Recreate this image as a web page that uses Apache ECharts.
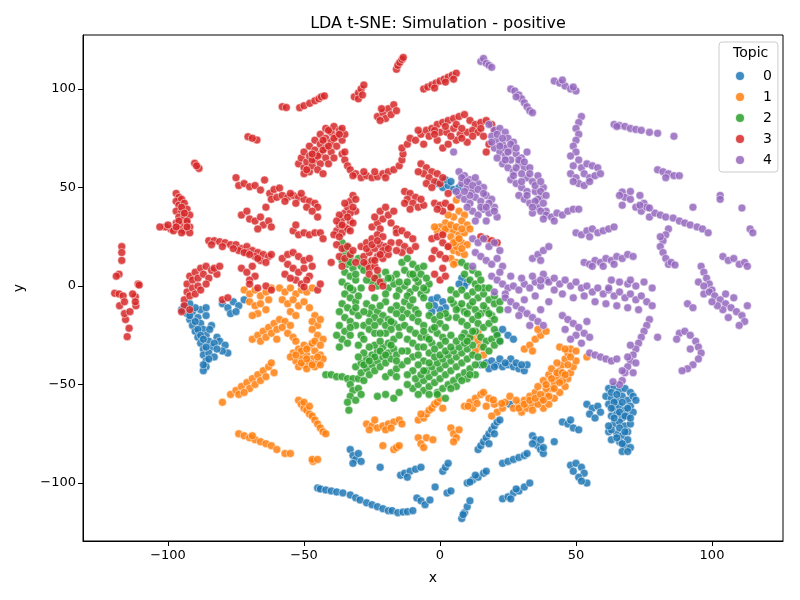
<!DOCTYPE html>
<html>
<head>
<meta charset="utf-8">
<script src="https://cdn.jsdelivr.net/npm/echarts@6/dist/echarts.min.js"></script>
<style>
html, body { margin: 0; padding: 0; background: #fff; }
#chart { width: 800px; height: 600px; }
</style>
</head>
<body>
<div id="chart"></div>
<script>
var topicNames = ['0', '1', '2', '3', '4'];
var topicColors = ['#1f77b4', '#ff7f0e', '#2ca02c', '#d62728', '#9467bd'];
var xTicks = [-100, -50, 0, 50, 100];
var yTicks = [-100, -50, 0, 50, 100];

// topic 0 (blue)
var topic0 = [
    [-94,-10],[-93,-14],[-92,-17],[-91,-20],[-90,-23],[-89,-26],[-88,-29],[-87,-32],[-87,-35],[-86,-38],
    [-86,-41],[-87,-43],[-91,-13],[-89,-16],[-88,-19],[-87,-22],[-86,-25],[-85,-28],[-84,-31],[-85,-34],
    [-88,-12],[-86,-15],[-84,-20],[-82,-26],[-81,-28],[-79,-30],[-78,-34],[-80,-33],[-83,-36],[-90,-11],
    [-95,-12],[-92,-9],[-84.7,-22],[-86,-11],
    [-89,-22],[-88,-25],[-87,-27],[-86,-31],[-85,-37],[-87,-40],[-83,-29],[-82,-32],[-90,-18],[-92,-15],
    [-80,-9],[-78,-11],[-76,-8],[-74,-10],[-72,-7],[-77,-14],[-75,-13],
    [-45,-102.5],[-44,-103],[-42,-103.5],[-40,-104],[-38,-104.5],[-35.7,-105],[-33,-106],[-31,-107.5],
    [-29.4,-108.6],[-27,-110],[-25,-111],[-23,-112],[-21,-113],[-19,-114],[-17.6,-114],[-15.5,-115],
    [-13.6,-114.7],[-12,-114.5],[-10,-114],[-8.5,-107.6],[-7,-109],[-5.5,-111],[-3.7,-108.6],[-1.8,-102],
    [2.6,-105],[4,-104],
    [8,-118],[9,-115],[10,-112],[11,-109],[8.5,-116],
    [-33,-83],[-32,-86],[-31,-88],[-30,-85],[-29,-89],[-32,-90],[-22,-92],
    [-14.5,-96],[-13,-95],[-11,-94],[-9,-93],[-7,-92],[-12,-97],
    [1,-94],[2,-92],[3,-90],
    [10,-100],[12,-98.5],[14,-97],[16,-95],[17,-94],[11,-99.5],[13,-96],
    [14,-83],[15,-81],[16,-79],[17,-77],[18,-75],[19,-73],[20,-71],[21,-69],[22,-68],[20,-75],[18,-80],
    [23,-90],[25,-89],[27,-88],[29,-87],[31,-86],[32,-85],
    [23,-108],[25,-107],[27,-105],[29,-104],[31,-102],[33,-100],[28,-103],[26,-108],
    [34,-76],[35,-78],[36,-81],[37,-83],[34,-80],[38,-85],
    [15,-40],[17,-39],[19,-38],[21,-40],[23,-41],[25,-40],[27,-41],[29,-42],[31,-43],[32,-40],[18,-42],
    [22,-37],[26,-37],[20,-41],[24,-39],[28,-39],[30,-40],
    [-3,-7],[-1,-6],[1,-8],[2,-11],[0,-12],[-2,-10],[-3,-13],
    [21,-24],[23,-22],[25,-25],[27,-27],[22,-28],[25.7,-60],
    [-1,52],[1,50],[3,51],[5,49],[7,50],[2,54],[4,53],
    [8,4],[10,2],[9,0],[7,1],
    [62,-52],[64,-51],[66,-53],[68,-52],[70,-54],[61,-56],[63,-57],[65,-58],[67,-56],[69,-58],
    [71,-56],[62,-60],[64,-62],[66,-61],[68,-63],[70,-61],[63,-66],[65,-65],[67,-67],[69,-66],
    [71,-64],[64,-70],[66,-69],[68,-71],[70,-70],[62,-74],[65,-75],[67,-76],[69,-74],[66,-79],
    [68,-81],[70,-82],[67,-84],[72,-58],[63,-78],[63,-73],
    [63,-54],[65,-55],[67,-59],[69,-62],[64,-59],[66,-64],[68,-66],[64,-67],[66,-72],[68,-74],
    [70,-67],[65,-77],[69,-78],[67,-80],[69,-84],[62,-71],[63,-62],
    [54,-60],[56,-62],[58,-61],[55,-65],[57,-67],[59,-64],
    [45,-69],[47,-70],[49,-72],[51,-73],[48,-68],
    [42,-79],[37,-78],[38,-82],
    [48,-91],[50,-90],[52,-92],[53,-95],[51,-97],[49,-94],[54,-100],[52,-99]
];

// topic 1 (orange)
var topic1 = [
    [6,43.6],[4,40],[7,38],[9,36],[5,35],[8,33],[10,31],[2,32],[0,30],[-1,28],[1,27],[3,29],[5,28],
    [7,26],[9,27],[11,29],[4,25],[6,23],[8,22],[10,21],[3,20],[5,18],[7,17],[9,16],[4,14],[6,12],
    [5,11],[-2,30],[3,36],[2,29],[4,31],[6,30],[8,29],[6,20],[8,19],[5,22],[7,24],
    [-72,-2],[-70,-4],[-68,-2],[-66,-5],[-64,-3],[-62,-1],[-70,-8],[-68,-10],[-66,-9],[-64,-12],
    [-67,-14],[-69,-15],[-63,-7],
    [-69,-27],[-67,-25],[-65,-23],[-63,-21],[-61,-19],[-59,-17],[-57,-18],[-55,-20],[-66,-28],[-64,-26],
    [-62,-24],[-60,-22],[-58,-21],[-56,-24],[-54,-26],[-53,-28],[-60,-27],
    [-59,-1],[-57,-3],[-55,-1],[-53,-4],[-51,-2],[-49,-3],[-47,-1],[-58,-7],[-56,-9],[-54,-7],
    [-52,-10],[-50,-8],[-48,-11],[-55,-13],[-53,-15],[-46,-15],[-47,-18],[-45,-20],[-44,-17],
    [-54,-34],[-52,-32],[-50,-30],[-48,-31],[-46,-33],[-44,-35],[-53,-38],[-51,-36],[-49,-35],[-47,-37],
    [-45,-39],[-43,-37],[-52,-41],[-50,-40],[-48,-39],[-46,-41],[-44,-40],[-55,-36],[-49,-42],[-47,-29],
    [-51,-33],[-47,-22],[-45,-25],[-43,-27],[-46,-28],[-44,-30],
    [-53,-35],[-51,-39],[-49,-37],[-47,-40],[-45,-36],[-49,-32],
    [-80,-59],[-77,-55],[-75,-53],[-73,-51],[-71,-49],[-69,-47],[-67,-45],[-65,-43],[-63,-41],[-62,-39],
    [-74,-55],[-70,-52],[-68,-50],[-66,-48],[-64,-46],[-72,-54],[-61,-44],
    [-74,-75],[-72,-76],[-70,-77],[-68,-78],[-66,-79],[-64,-80],[-62,-81],[-60,-83],[-69,-76],[-57,-85],
    [-55,-85],[-46.7,-89],
    [-52,-58],[-51,-60],[-50,-62],[-49,-63],[-48,-65],[-47,-66],[-46,-68],[-45,-70],[-44,-72],[-43,-74],
    [-42,-75],[-50,-59],[-48,-61],
    [-47,-88],[-45,-88],
    [-27,-70],[-25,-71],[-23,-72],[-21,-71],[-19,-70],[-17,-69],[-15,-68],[-14,-70],[-24,-68],[-20,-73],
    [-26,-73],[-18,-72],
    [-21,-81],[-17,-83],[-16,-82],[-15,-81],
    [-8,-68],[-6,-67],[-5,-65],[-4,-63],[-3,-62],[-2,-60],[-1,-59],[0,-57],[-7,-65],[1,-62],
    [-8,-77],[-7,-80],[-6,-82],[-5,-77],[-2.6,-78],
    [4,-72],[5,-75],[6,-77],[5,-79],[7,-73],
    [9,-61],[11,-59],[13,-57],[15,-55],[16,-54],[18,-57],[20,-60],[21,-64],[23,-62],[24,-59],
    [25.7,-56],[12,-62],[17,-61],[19,-66],[10.3,-61],[13.6,-59.6],[19.6,-57.8],[22.7,-59.6],
    [27,-62],[29,-60],[31,-58],[33,-56],[35,-54],[36,-51],[38,-48],[40,-45],[30,-64],[32,-62],
    [34,-60],[37,-58],[39,-55],[41,-52],[42,-49],[43,-46],[44,-43],[45,-40],[46,-37],[47,-34],
    [48,-32],[38,-62],[40,-60],[42,-57],[44,-54],[46,-51],[47,-47],[48,-44],[49,-41],[50,-38],
    [43,-39],[41,-42],[39,-52],[45,-48],[36,-60],[54,-36],[50,-33],[28,-58],[34,-63],[44,-31],
    [29,-62],[31,-60],[33,-58],[35,-57],[37,-55],[39,-50],[41,-47],[43,-44],[45,-44],[46,-45],
    [44,-49],[42,-52],[40,-56],[38,-58],[47,-40],[48,-36],[46,-32],
    [12,-26],[14,-28],[15,-31],[13,-33],[16,-35],[14,-24],
    [31,-32],[33,-30],[35,-27],[37,-25],[39,-23],[34,-33],[36,-22]
];

// topic 2 (green)
var topic2 = [
    [-36,22],[-34,20],[-35,17],[-33,15],[-36,13],[-34,11],[-32,9],[-35,7],[-33,5],[-31,3],
    [-36,2],[-34,0],[-32,-2],[-35,-4],[-33,-6],[-31,-8],[-36,-9],[-34,-11],[-32,-13],[-30,-15],
    [-35,-16],[-33,-18],[-31,-20],[-37,-20],[-35,-23],[-33,-25],[-36,-27],[-34,-29],[-37,-31],[-38,-25],
    [-30,-5],[-29,10],[-37,-13],
    [-42,-45],[-40,-45],[-38,-46],[-36,-46],[-34,-47],[-32,-47],[-30,-47],[-28,-48],
    [-33,-50],[-32,-53],[-33,-56],[-34,-59],[-33.5,-63],[-30,-52],[-29,-55],[-31,-58],
    [-31,-41],[-29,-39],[-27,-37],[-25,-35],[-23,-33],[-21,-31],[-19,-29],[-17,-27],[-15,-25],[-29,-44],
    [-27,-42],[-25,-40],[-23,-38],[-21,-36],[-19,-34],[-17,-32],[-26,-45],[-24,-43],[-22,-41],[-20,-39],
    [-18,-37],[-16,-35],[-20,-46],[-18,-44],[-16,-42],[-14,-40],[-28,-34],[-30,-36],[-24,-30],[-22,-28],
    [-27,-9],[-25,-11],[-23,-13],[-21,-15],[-19,-17],[-17,-19],[-15,-21],[-26,-14],[-24,-16],[-22,-18],
    [-20,-20],[-18,-22],[-28,-20],[-26,-22],[-24,-24],[-14,-12],[-16,-10],[-20,-8],[-22,-10],[-18,-12],
    [-24,-6],
    [-13,-8],[-11,-10],[-9,-12],[-12,-14],[-10,-16],[-8,-18],[-13,-20],[-11,-22],[-9,-24],[-7,-26],
    [-12,-27],[-10,-29],[-8,-31],[-6,-20],
    [-25,2],[-23,0],[-21,2],[-19,-1],[-17,1],[-15,-2],[-13,0],[-11,-3],[-9,-1],[-7,-4],
    [-5,-2],[-20,-4],[-16,-5],[-12,-5],[-8,2],[-4,1],
    [-10,-52],[-8,-50],[-6,-48],[-4,-46],[-2,-44],[0,-42],[2,-40],[4,-38],[6,-36],[8,-34],
    [10,-32],[12,-30],[-9,-47],[-7,-45],[-5,-43],[-3,-41],[-1,-39],[1,-37],[3,-35],[5,-33],
    [7,-31],[9,-29],[-6,-53],[-4,-51],[-2,-49],[0,-47],[2,-45],[4,-43],[6,-41],[8,-39],
    [10,-37],[12,-35],[-1,-54],[1,-52],[3,-50],[5,-48],[7,-46],[9,-44],[11,-42],[13,-40],
    [-8,-55],[6,-51],[10,-47],[13,-45],
    [4,-2],[6,-4],[8,-2],[10,-5],[12,-3],[14,-6],[16,-4],[18,-7],[20,-9],[22,-8],
    [5,-9],[7,-11],[9,-13],[11,-10],[13,-12],[15,-14],[17,-12],[19,-15],[6,-16],[8,-18],
    [10,-20],[12,-17],[14,-19],[16,-21],[18,-19],[20,-22],[9,-24],[11,-26],[13,-23],[15,-26],
    [17,-28],[19,-27],[21,-25],[16,-31],[18,-33],
    [-4,-15],[-2,-17],[0,-19],[2,-21],[-3,-22],[-1,-24],[1,-26],[3,-16],[-5,-26],[-3,-29],
    [0,-30],[2,-28],[4,-25],[-4,-34],[-2,-36],[-6,-38],[-8,-40],[-10,-36],[-12,-33],
    [-14,12],[-12,14],[-10,11],[-8,9],[-13,8],[-11,6],[-9,4],[-7,6],[-5,4],[-12,2],
    [-6,10],[8,12],[10,10],[12,8],[14,6],[9,6],[11,3],[13,1],[15,3],[16,-1],
    [-16,6],[-18,4],[-20,7],[-28,8],[-26,12],[-30,14],
    [-23,-56],[-20,-55],[-17,-57],[-15,-54],[-1,-55],[2,-57],
    [-35,19],[-33,12],[-31,6],[-33,-1],[-31,-11],[-33,-21],[-29,-25],[-30,-30],[-26,-31],[-28,-40],
    [-24,-36],[-22,-33],[-20,-35],[-18,-30],[-16,-38],[-14,-33],[-12,-38],[-10,-43],[-12,-45],[-6,-43],
    [-4,-39],[-8,-35],[-6,-31],[-4,-27],[-2,-32],[0,-35],[2,-33],[4,-31],[6,-28],[8,-26],
    [10,-28],[12,-23],[14,-15],[16,-10],[18,-14],[20,-17],[22,-12],[20,-5],[18,-1],[14,-1],
    [12,-8],[10,-14],[8,-9],[6,-12],[4,-7],[2,-14],[0,-15],[-2,-21],[-6,-23],[-8,-14],
    [-4,-10],[-6,-6],[-10,-7],[-14,-16],[-16,-14],[-18,-18],[-20,-24],[-22,-24],[-26,-18],[-28,-13],
    [-24,-20],[-29,-1],[-27,3],[-23,5],[-19,4],[-15,2],[-10,6],[-6,-1],[-28,-27],[-26,-38],
    [-16,-46],[-12,-50],[-4,-55],[4,-52],[8,-48],[11,-45],[14,-36],[16,-40],[20,-30],[22,-28]
];

// topic 3 (red)
var topic3 = [
    [-117,20],[-117,17],[-117,13],[-118,6],[-119,5],[-111,1],[-110.6,0.5],[-119.6,-3.7],[-118,-4],[-116.5,-5],
    [-112,-5.4],[-113,-4],[-117.8,-10],[-116,-8],[-111.8,-10],[-112,-8],[-115.6,-17],[-116,-14],[-114.3,-21.4],[-115,-25.7],
    [-114,-13],
    [-97,47],[-96,45],[-97,43],[-95,44],[-96,41],[-94,42],[-97,38],[-95,38],[-93,39],[-96,35],
    [-94,35],[-92,36],[-97,32],[-95,31],[-93,32],[-92,30],[-96,29],[-94,28],[-92,27],[-99,29],
    [-101,30],[-103,30],[-98,28],[-95,27],[-93,33],[-95,40],[-94,37],[-96,33],[-93,30],[-97,30],[-100,31],
    [-90.2,62.3],[-88.6,59.7],[-89.5,61],[-70.6,75.8],[-67.3,74.1],[-69,75],
    [-58,91],[-56.5,90.6],[-51.6,90.5],[-50,91.5],[-47.9,92.7],[-46,94],[-44.5,95],[-43.6,96],[-42.5,96.5],
    [-52,62],[-50,60],[-48,58],[-51,65],[-49,63],[-47,61],[-50,68],[-48,66],[-46,64],[-44,62],
    [-48,71],[-46,69],[-44,67],[-42,65],[-46,74],[-44,72],[-42,70],[-40,68],[-44,77],[-42,75],
    [-40,73],[-38,71],[-42,80],[-40,78],[-38,76],[-36,74],[-39,81],[-37,79],[-35,77],[-45,59],
    [-43,57],[-41,62],[-39,65],[-50,57],[-36,80],
    [-49,59],[-47,64],[-45,66],[-43,69],[-41,71],[-39,75],[-37,77],[-41,79],[-43,74],[-47,67],
    [-75,55],[-74,51],[-72,52],[-70,50.4],[-68,51],[-66,48.7],[-64.5,53.8],[-62.6,47],[-61,49],[-59,49.7],
    [-62,44],[-60,45],[-58,46],[-56,45],[-54,46],[-52,45],[-50,44],[-48,43],[-46,42],[-45,40],
    [-57,43],[-53,42],[-49,40],[-55,47],[-51,47],[-47,38],[-45,35],
    [-73,36],[-71,38],[-70,34],[-68,33],[-66,35],[-65,31],[-63,33],[-62,30],[-67,29],[-64,40],
    [-54,28],[-52,26],[-50,27],[-48,26],[-46,27],[-44,27],[-53,31],[-43,24],
    [-85,23],[-83,23],[-81,22.5],[-79,22],[-77,21],[-75,21],[-73,19],[-71,20],[-69,18],[-67,17],
    [-65,16],[-63,15],[-71,17],[-68,15],[-66,13],[-64,12],[-62,16],[-74,18],
    [-84,21],[-80,20],[-76,19],[-72,17],[-70,16],[-67,14],
    [-58,14],[-56,16],[-54,17],[-52,15],[-50,13],[-48,14],[-56,11],[-54,9],[-52,7],[-50,9],
    [-48,5],[-53,3],[-51,1],[-49,3],[-57,6],[-55,4],[-47,10],[-50,-0.5],
    [-92,5],[-90,7],[-88,9],[-86,10],[-84,8],[-82,6],[-93,1],[-91,3],[-89,4],[-87,6],
    [-85,4],[-93,-3],[-91,-1],[-89,0],[-94,-7],[-92,-5],[-90,-4],[-88,-2],[-86,1],[-83,9],
    [-81,10],[-94,-10],[-92,-12],[-95,-13],
    [-73,9],[-71,7],[-69,10],[-68,5],[-70,3],[-80,-7],[-78,-6],[-70,1],[-67,-1],[-64,0],[-62,-2],
    [-16,110],[-15.5,112],[-14.8,113.5],[-14,115],[-13.5,116],
    [-31.5,96],[-30,98],[-29,100],[-28,102],[-30,95],[-28.5,97],
    [-6,100],[-4.5,101],[-3,102],[-1.5,103],[0,104],[1.5,105],[3,106],[4.5,107],[6,108],[-2,100.5],
    [2,103.5],[5,105],
    [-23,86],[-21,88],[-19,90],[-17,92],[-20,85],[-18,87],[-16,89],[-22,84],[-21.5,90],
    [-36,67],[-35,64],[-34,61],[-33,59],[-31,57],[-29,55],[-27,56],[-25,55],[-23,55.5],[-21,57],
    [-19,58],[-17,59],[-15,61],[-14,64],[-13.6,67],[-14,70],[-12,72],[-11,75],[-28,58],[-24,58],
    [-20,55],[-32,56],[-35,68],
    [-9,74],[-7,77],[-5,79],[-3,80],[-1,82],[1,83],[3,84],[5,85],[7,86],[9,87],
    [11,84],[13,82],[15,83],[17,84],[19,82],[-4,76],[0,78],[2.5,78],[5,80],[7.4,77],
    [10,78],[12,79],[14,78],[16,76],[1,70],[3,72],[-1,74],[10,73],[17,68],[18,72],
    [6,74],[20,79],[-6,72],[-8,79],[-2,79],[2,81],[6,82],[8,80],[12,76],[15,80],[4,76],[-2,77],[8,75],
    [-7,62],[-5,60],[-3,58],[-1,57],[-6,57],[-4,55],[-2,53],[0,52],[-5,52],[-3,50],
    [1,55],[3,47],[-8,58],
    [-13,48],[-11,47],[-9,45],[-12,44],[-10,42],[-8,40],[-6,41],[-11,39],[-13,42],[-7,44],
    [-2,42],[0,41],[2,42],[4,40],[1,38],[-1,39],
    [-38,28],[-37,31],[-36,34],[-35,37],[-34,40],[-33,43],[-32,46],[-37,36],[-35,30],[-33,33],
    [-31,38],[-38,33],[-36,27],[-34,29],[-32,32],[-31,44],[-39,26],[-33,37],
    [-34,35],[-36,31],[-32,40],[-35,42],[-33,28],[-37,25],
    [-25,30],[-23,32],[-21,34],[-19,36],[-17,38],[-24,35],[-22,38],[-20,40],[-18,32],[-16,29],
    [-22,29],
    [-38,21],[-36,19],[-34,20],[-40,12],[-37,15],[-35,14],[-33,16],[-31,12],[-36,10],[-32,18],
    [-29,20],[-27,22],[-25,24],[-23,26],[-21,25],[-28,15],[-26,17],[-24,19],[-22,21],[-20,20],
    [-27,11],[-25,13],[-23,15],[-21,14],[-19,16],[-18,22],[-26,9],[-24,10],
    [-27,19],[-25,21],[-23,23],[-21,18],[-19,19],[-28,12],[-24,13],[-22,16],
    [-16,27],[-14,28],[-12,26],[-10,24],[-15,22],[-13,20],[-11,18],[-9,20],[-14,17],[-16,18],
    [-3,24],[-1,25],[1,22],[3,20],[-2,18],[0,16],[2,14],[-3,14],[1,26],
    [15,25],[17,24],[19,23],[21,22],
    [-26,6],[-24,4],[-22,2],[-23,8],[-21,0],[-25,-1],
    [-45,-2],[-44,1],[0,3],[-2,6],[2,5],[1,9]
];

// topic 4 (purple)
var topic4 = [
    [15,114],[16,115.5],[17,113],[18,112],[19,111],
    [26,100],[27.5,99],[29,97],[30,95],[31,93],[32,91],[33,89],[34,88],[28,96],
    [20,79],[22,80],[24,78],[19,76],[21,74],[23,72],[25,75],[27,73],[20,70],[22,68],
    [24,66],[26,69],[28,67],[23,62],[25,60],[27,58],[29,62],[31,60],[26,54],[28,52],
    [30,50],[32,55],[34,53],[29,46],[31,44],[33,42],[35,48],[36,40],[34,37],[37,45],
    [30,65],[32,68],[26,64],[21,65],[30,57],[36,56],[38,50],[33,60],[24,70],
    [18,82],[21,77],[23,75],[26,72],[28,70],[29,64],[31,63],[33,57],[35,51],[37,48],
    [36,44],[38,42],[35,43],[32,48],[27,56],[24,64],[22,71],[19,73],[25,68],[28,60],
    [30,53],[32,46],[34,40],[39,38],[37,53],[39,46],
    [7,58],[9,56],[11,54],[8,52],[10,50],[12,48],[14,52],[16,50],[7,46],[9,44],
    [11,42],[13,45],[15,43],[17,46],[19,44],[12,38],[14,36],[16,39],[18,37],[20,40],
    [21,35],[10,40],[6,48],[13,33],[17,33],[5,68],
    [8,55],[10,53],[12,51],[14,49],[16,47],[18,42],[20,38],[15,40],[11,46],[9,48],[13,55],[17,40],
    [12,24],[14,22],[16,24],[18,20],[20,22],[22,18],[13,17],[15,15],[17,13],[19,11],
    [21,14],[23,10],[12,10],
    [19,5],[21,3],[23,1],[25,-1],[27,0],[29,-2],[31,1],[33,-1],[35,2],[37,0],
    [39,3],[22,7],[26,5],[30,4],[34,5],[38,6],[20,-3],[24,-4],
    [34,14],[36,16],[38,18],[40,20],[37,13],
    [42,104],[44,103],[46,101.5],[48,100],[50,99],[45,104.5],[49,101],
    [52,86],[51,83],[50,80],[51,77],[50,74],[49,71],[50,68],[48,66],[51,64],[49,61],
    [52,60],[54,62],[56,61],[58,60],[48,57],[50,55],[53,57],[55,55],[57,56],[59,57],
    [51,52],[53,51],[55,53],[49,53],
    [64,82],[66,81.5],[68,81],[70,80],[72,79.5],[74,79],[77,78],[80,77.5],[86,76],[65,81],
    [80,59],[82,58],[84,57],[86,56],[88,56],[83,55],
    [67,47.7],[68,45],[70,44],[73.5,46],[75,42],[72,40],[77,35],[79,37],[81,36],[83,35],
    [85.7,34.5],[88,33],[90,32],[92,31],[94.5,30],[96.5,29],[98.6,27],[74,38],[76,40],[70,48],
    [66,46],[67,41],[73.5,41],[77,39.6],
    [93,40],[103,46],[103,44],[111,39.6],[114,29],[115,27],
    [84,29],[83,26],[82,23],[81,20],[82,17],[83,14],[84,11],[85,12],[81,25],[86.4,10.7],
    [37,38],[39,36],[41,35],[43,37],[45,36],[47,38],[49,39],[51,39],[38,34],[42,33],
    [50,27],[52,26],[54,28],[56,29],[58,27],[60,28],[62,29],[64,30],[55,25],
    [53,12],[55,11],[57,13],[59,12],[61,14],[63,13],[65,15],[67,14],[69,16],[71,15],
    [56,10],[60,10],[64,11],
    [37,3],[40,2],[42,4],[44,1],[46,3],[48,0],[50,2],[52,-1],[54,0],[56,-3],
    [58,-1],[60,-4],[62,-2],[64,-5],[66,-3],[68,-6],[70,-4],[72,-7],[74,-5],[76,-8],
    [78,-10],[45,-4],[49,-6],[53,-5],[57,-8],[61,-9],[65,-10],[69,-11],[73,-12],[42,-2],
    [63,3],[66,2],[69,1],[72,0],[75,2],[78,-1],[62,-1],[70,3],
    [96,10],[97,7],[98,4],[99,1],[100,-2],[97,-4],
    [104,15],[106,13],[108,14],[110,11],[112,12],[113,10],
    [45,-15],[47,-17],[49,-19],[51,-21],[53,-24],[55,-26],[46,-22],[50,-25],[52,-29],[48,-27],
    [54,-18],
    [55,-34],[57,-35],[59,-36],[61,-37],[63,-38],[65,-37],
    [77,-17],[76,-20],[75,-23],[74,-26],[73,-29],[72,-32],[71,-35],[70,-38],[69,-41],[68,-44],
    [67,-48],[66,-50],[70,-30],[72,-39],[69,-36],[67,-43],[71,-44],[80,-26],[63.6,-48.6],
    [88,-24],[90,-23],[92,-25],[94,-28],[95,-31],[96,-34],[95,-37],[93,-40],[91,-42],[89,-43],
    [87,-27],[92,-32],
    [95,2],[97,0],[99,-3],[101,-5],[103,-7],[105,-9],[107,-11],[109,-13],[111,-15],[112,-18],
    [110,-20],[106,-16],[104,-12],[108,-6],[102,-10],[100,-8],[113,-10],[105,-4],
    [91,-9],[93,-11],
    [24,-6],[26,-8],[28,-10],[30,-12],[32,-14],[34,-16],[36,-18],[38,-20],[25,-12],[29,-15],
    [33,-20],[37,-12],[40,-8],[35,-5],[31,-7]
];

var topicData = [topic0, topic1, topic2, topic3, topic4];

function tickLabel(v) {
    return v < 0 ? '\u2212' + (-v) : String(v);
}

var font = 'DejaVu Sans';
var chart = echarts.init(document.getElementById('chart'), null, { renderer: 'canvas' });

var series = topicNames.map(function (name, i) {
    return {
        name: name,
        type: 'scatter',
        data: topicData[i],
        symbol: 'circle',
        symbolSize: 8,
        itemStyle: {
            color: topicColors[i],
            opacity: 0.85,
            borderColor: '#ffffff',
            borderWidth: 0.6
        },
        emphasis: { disabled: true }
    };
});

chart.setOption({
    animation: false,
    backgroundColor: '#ffffff',
    title: {
        text: 'LDA t-SNE: Simulation - positive',
        left: 433,
        top: 11,
        textAlign: 'center',
        textStyle: { fontFamily: font, fontSize: 16, fontWeight: 'normal', color: '#000' }
    },
    grid: {
        left: 83, right: 17, top: 35, bottom: 59,
        show: true, borderColor: '#000', borderWidth: 1, backgroundColor: 'transparent'
    },
    legend: {
        data: topicNames,
        orient: 'vertical',
        left: 719,
        top: 42,
        icon: 'circle',
        itemWidth: 10,
        itemHeight: 10,
        itemGap: 7,
        padding: [27, 6, 5, 15],
        backgroundColor: 'rgba(255,255,255,0.8)',
        borderColor: '#cccccc',
        borderWidth: 1,
        borderRadius: 3,
        selectedMode: false,
        textStyle: { fontFamily: font, fontSize: 14, color: '#000', lineHeight: 14, padding: [0, 0, 0, 13] }
    },
    graphic: [{
        type: 'text',
        left: 733,
        top: 46,
        z: 100,
        style: { text: 'Topic', fontFamily: font, fontSize: 14, fill: '#000' }
    }],
    xAxis: {
        type: 'value',
        min: -131.25,
        max: 126.1,
        name: 'x',
        nameLocation: 'middle',
        nameGap: 30,
        nameTextStyle: { fontFamily: font, fontSize: 14, color: '#000' },
        splitLine: { show: false },
        axisLine: { show: true, onZero: false, lineStyle: { color: '#000' } },
        axisTick: { show: true, length: 5, lineStyle: { color: '#000' }, customValues: xTicks },
        axisLabel: { fontFamily: font, fontSize: 13, color: '#000', margin: 8, customValues: xTicks, formatter: tickLabel }
    },
    yAxis: {
        type: 'value',
        min: -129.4,
        max: 127.4,
        name: 'y',
        nameLocation: 'middle',
        nameGap: 57,
        nameTextStyle: { fontFamily: font, fontSize: 14, color: '#000' },
        splitLine: { show: false },
        axisLine: { show: true, onZero: false, lineStyle: { color: '#000' } },
        axisTick: { show: true, length: 5, lineStyle: { color: '#000' }, customValues: yTicks },
        axisLabel: { fontFamily: font, fontSize: 13, color: '#000', margin: 7, customValues: yTicks, formatter: tickLabel }
    },
    series: series
});
</script>
</body>
</html>
